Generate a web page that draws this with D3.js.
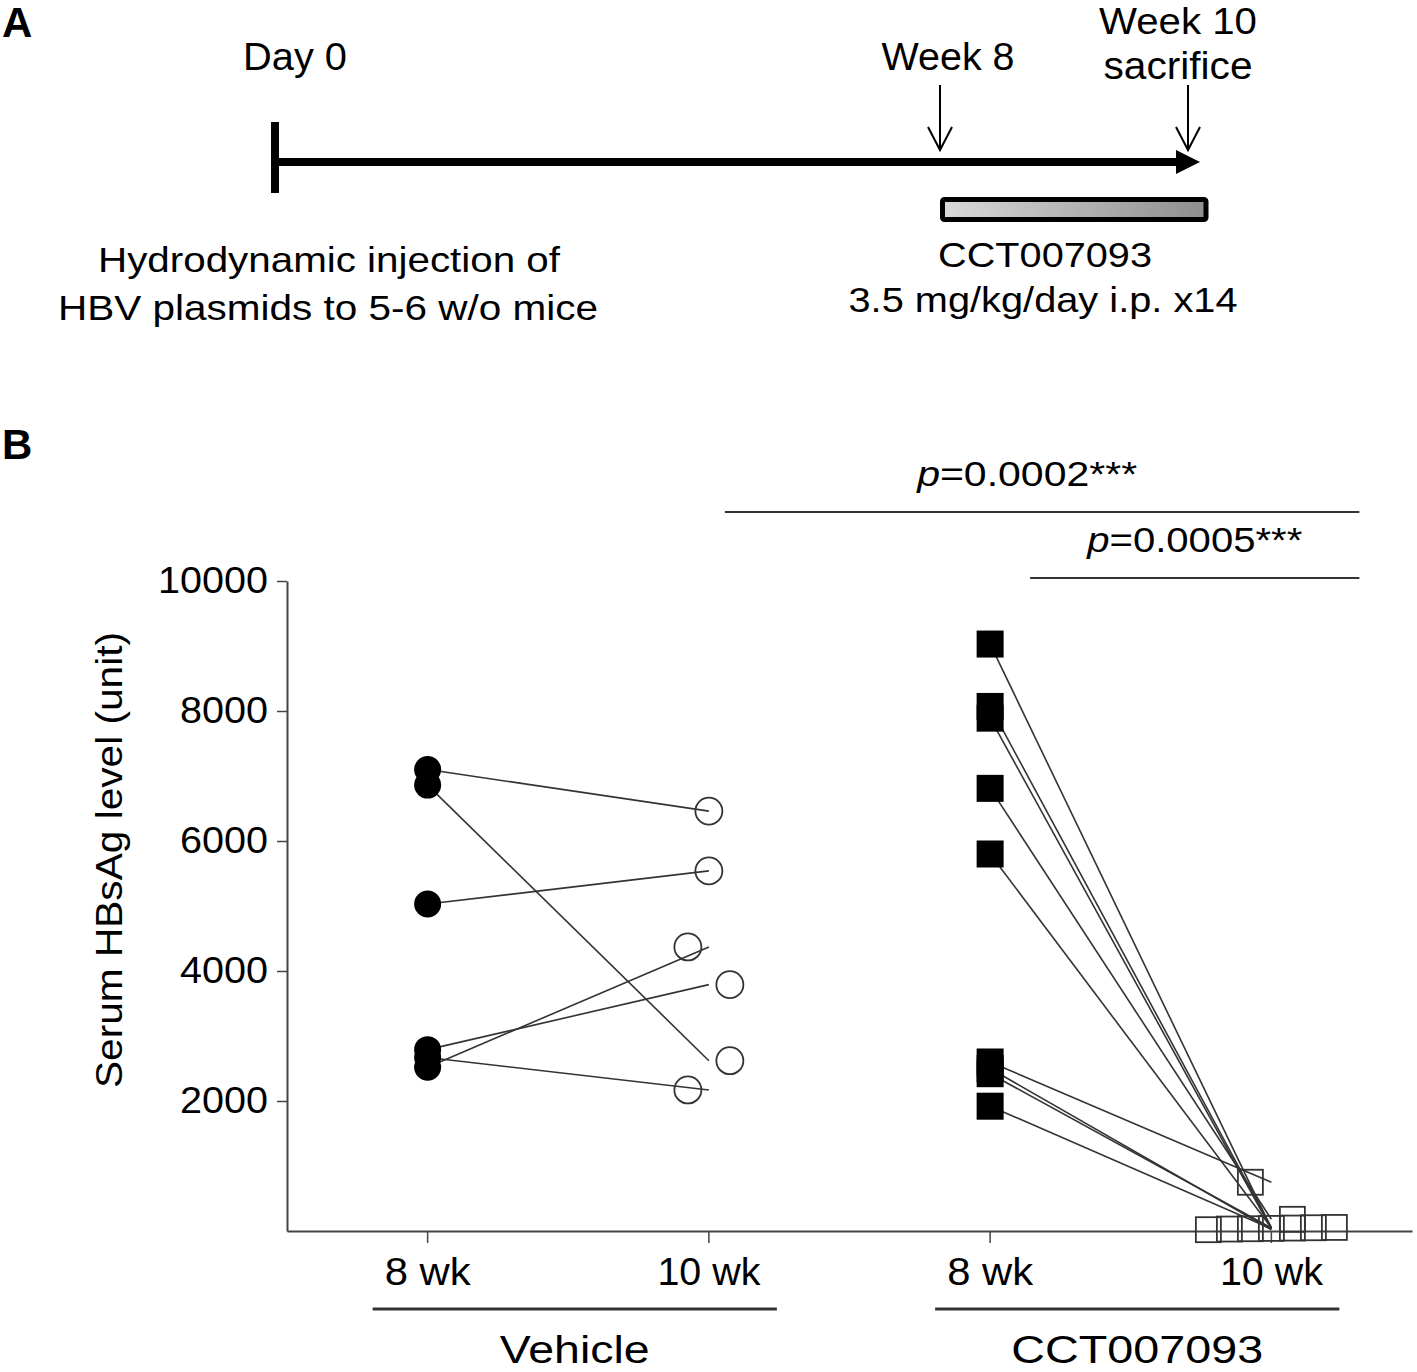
<!DOCTYPE html>
<html>
<head>
<meta charset="utf-8">
<script src="https://cdn.jsdelivr.net/npm/d3@7"></script>
<style>
  body { margin: 0; background: #fff; }
  svg { display: block; font-family: "Liberation Sans", Arial, sans-serif; }
</style>
</head>
<body>
<div id="chart"></div>
<script>
// panel A - timeline
var timeWeeks = [0, 8, 10]
var timeLabels = [["Day 0"], ["Week 8"], ["Week 10", "sacrifice"]]
var leftNote = ["Hydrodynamic injection of", "HBV plasmids to 5-6 w/o mice"]
var drugNote = ["CCT007093", "3.5 mg/kg/day i.p. x14"]

// panel B - serum HBsAg, paired per mouse
var groups = ["Vehicle", "CCT007093"]
var timepoints = ["8 wk", "10 wk"]
var vehicleWk8  = [7100, 6860, 5030, 2790, 2520, 2670]
var vehicleWk10 = [6460, 2620, 5540, 3790, 4370, 2170]
var cctWk8  = [9030, 8070, 7890, 6810, 5800, 2600, 2500, 2420, 1920]
var cctWk10 = [40, 55, 30, 180, 50, 750, 20, 45, 35]
var yTicks = [2000, 4000, 6000, 8000, 10000]
var comparisons = [["v10", "c10", "0.0002***"], ["c8", "c10", "0.0005***"]]

var W = 1417, H = 1372
var svg = d3.select("#chart").append("svg").attr("width", W).attr("height", H)

function fit(sel, w) {
  sel.attr("textLength", w).attr("lengthAdjust", "spacingAndGlyphs")
  return sel
}

function label(x, y, txt, size, w) {
  var t = svg.append("text")
    .attr("x", x).attr("y", y)
    .attr("text-anchor", "middle")
    .attr("font-size", size)
    .text(txt)
  if (w) fit(t, w)
  return t
}

// panel letters
svg.append("text").attr("x", 2).attr("y", 37).attr("font-size", 42).attr("font-weight", "bold").text("A")
svg.append("text").attr("x", 2).attr("y", 459).attr("font-size", 42).attr("font-weight", "bold").text("B")

// ---------- panel A ----------
var t = d3.scaleLinear().domain(timeWeeks).range([275, 940, 1188])
var lineY = 162

svg.append("line")
  .attr("x1", t(0)).attr("x2", t(10) - 11)
  .attr("y1", lineY).attr("y2", lineY)
  .attr("stroke", "#000").attr("stroke-width", 8)

svg.append("path")
  .attr("d", "M" + (t(10) - 12) + "," + (lineY - 12) + "L" + (t(10) + 12) + "," + lineY + "L" + (t(10) - 12) + "," + (lineY + 12) + "Z")
  .attr("fill", "#000")

svg.append("line")
  .attr("x1", t(0)).attr("x2", t(0))
  .attr("y1", 122).attr("y2", 193)
  .attr("stroke", "#000").attr("stroke-width", 8)

// down arrows at week 8 and week 10
timeWeeks.slice(1).forEach(function (w) {
  var x = t(w)
  svg.append("line").attr("x1", x).attr("x2", x).attr("y1", 85).attr("y2", 149)
    .attr("stroke", "#000").attr("stroke-width", 2)
  svg.append("polyline")
    .attr("points", (x - 12) + ",127 " + x + ",150 " + (x + 12) + ",127")
    .attr("fill", "none").attr("stroke", "#000").attr("stroke-width", 2)
})

var labelDx = [20, 8, -10]
var labelW = [[104], [133], [158, 149]]
var labelY = [[70], [70], [34, 79]]
var labelSize = [[38], [38], [36, 38]]
timeLabels.forEach(function (lines, i) {
  lines.forEach(function (txt, j) {
    label(t(timeWeeks[i]) + labelDx[i], labelY[i][j], txt, labelSize[i][j], labelW[i][j])
  })
})

// treatment bar
var grad = svg.append("defs").append("linearGradient").attr("id", "bar")
grad.append("stop").attr("offset", "0%").attr("stop-color", "#d9d9d9")
grad.append("stop").attr("offset", "100%").attr("stop-color", "#8e8e8e")

svg.append("rect")
  .attr("x", t(8) + 2.5).attr("y", 199.5)
  .attr("width", t(10) + 18 - t(8) - 2.5).attr("height", 20)
  .attr("rx", 2)
  .attr("fill", "url(#bar)").attr("stroke", "#000").attr("stroke-width", 5)

label(329, 272, leftNote[0], 35, 462)
label(328, 320, leftNote[1], 35, 540)
label(1045, 267, drugNote[0], 35, 214)
label(1043, 312, drugNote[1], 35, 389)

// ---------- panel B ----------
var y = d3.scaleLinear().domain([0, 10000]).range([1231, 581])
var x = d3.scaleBand().domain(["v8", "v10", "c8", "c10"]).range([287, 1412])
var cx = function (k) { return x(k) + x.bandwidth() / 2 }

var yAxis = svg.append("g")
  .attr("transform", "translate(287,0)")
  .call(d3.axisLeft(y).tickValues(yTicks).tickSize(10).tickPadding(9).tickSizeOuter(0).tickFormat(d3.format("d")))
yAxis.selectAll("text").attr("font-size", 36).attr("fill", "#000").each(function (d) {
  fit(d3.select(this), String(d).length * 22)
})

var tickName = { v8: timepoints[0], v10: timepoints[1], c8: timepoints[0], c10: timepoints[1] }
var xAxis = svg.append("g")
  .attr("transform", "translate(0,1231)")
  .call(d3.axisBottom(x).tickSize(12).tickPadding(15).tickSizeOuter(0).tickFormat(function (k) { return tickName[k] }))
xAxis.selectAll("text").attr("font-size", 38).attr("fill", "#000").each(function (k) {
  fit(d3.select(this), tickName[k].length === 4 ? 86 : 103)
})
svg.selectAll(".domain, .tick line").attr("stroke", "#444").attr("stroke-width", 2)
svg.selectAll(".tick line").attr("stroke-width", 1.5)

svg.append("text")
  .attr("transform", "translate(122,860) rotate(-90)")
  .attr("text-anchor", "middle")
  .attr("font-size", 36)
  .call(fit, 456)
  .text("Serum HBsAg level (unit)")

// group underlines and names
var groupKeys = [["v8", "v10"], ["c8", "c10"]]
var groupW = [150, 252]
groupKeys.forEach(function (keys, i) {
  var x1 = cx(keys[0]) - 55, x2 = cx(keys[1]) + 68
  svg.append("line").attr("x1", x1).attr("x2", x2).attr("y1", 1309).attr("y2", 1309)
    .attr("stroke", "#333").attr("stroke-width", 3)
  label((x1 + x2) / 2, 1363, groups[i], 38, groupW[i])
})

// significance bars
var compPad = [16, 40]
var compY = [512, 578]
var compW = [220, 215]
comparisons.forEach(function (c, i) {
  var x1 = cx(c[0]) + compPad[i], x2 = cx(c[1]) + 88
  svg.append("line").attr("x1", x1).attr("x2", x2).attr("y1", compY[i]).attr("y2", compY[i])
    .attr("stroke", "#333").attr("stroke-width", 2)
  var txt = svg.append("text")
    .attr("x", (x1 + x2) / 2 - (i === 0 ? 15 : 0)).attr("y", compY[i] - 26)
    .attr("text-anchor", "middle").attr("font-size", 35)
  txt.append("tspan").attr("font-style", "italic").text("p")
  txt.append("tspan").text("=" + c[2])
  fit(txt, compW[i])
})

// horizontal spread of crowded points in a column
function swarm(values, maxSpread) {
  var order = d3.range(values.length).sort(function (a, b) { return values[b] - values[a] })
  var rows = []
  order.forEach(function (i) {
    var row = rows[rows.length - 1]
    if (row && y(values[i]) - y(values[row[0]]) < 40) row.push(i)
    else rows.push([i])
  })
  var off = values.map(function () { return 0 })
  var multi = 0
  rows.forEach(function (row) {
    if (row.length < 2) return
    var step = Math.min(42, maxSpread / (row.length - 1))
    var dir = multi++ % 2 ? -1 : 1
    row.forEach(function (i, k) { off[i] = dir * (k - (row.length - 1) / 2) * step })
  })
  return off
}

var r = 13.5
function pairs(before, after, k1, k2, shape) {
  var g = svg.append("g")
  var off = swarm(after, 126)
  g.selectAll("line.pair").data(before).enter().append("line")
    .attr("x1", cx(k1)).attr("y1", function (d) { return y(d) })
    .attr("x2", cx(k2)).attr("y2", function (d, i) { return y(after[i]) })
    .attr("stroke", "#333").attr("stroke-width", 1.6)

  if (shape === "circle") {
    g.selectAll("circle.pre").data(before).enter().append("circle")
      .attr("cx", cx(k1)).attr("cy", function (d) { return y(d) }).attr("r", r)
      .attr("fill", "#000")
    g.selectAll("circle.post").data(after).enter().append("circle")
      .attr("cx", function (d, i) { return cx(k2) + off[i] }).attr("cy", function (d) { return y(d) }).attr("r", r)
      .attr("fill", "none").attr("stroke", "#333").attr("stroke-width", 1.8)
  } else {
    g.selectAll("rect.pre").data(before).enter().append("rect")
      .attr("x", cx(k1) - r).attr("y", function (d) { return y(d) - r })
      .attr("width", 2 * r).attr("height", 2 * r)
      .attr("fill", "#000")
    g.selectAll("rect.post").data(after).enter().append("rect")
      .attr("x", function (d, i) { return cx(k2) + off[i] - 12.5 }).attr("y", function (d) { return y(d) - 12.5 })
      .attr("width", 25).attr("height", 25)
      .attr("fill", "none").attr("stroke", "#333").attr("stroke-width", 1.8)
  }
}

pairs(vehicleWk8, vehicleWk10, "v8", "v10", "circle")
pairs(cctWk8, cctWk10, "c8", "c10", "square")
</script>
</body>
</html>
